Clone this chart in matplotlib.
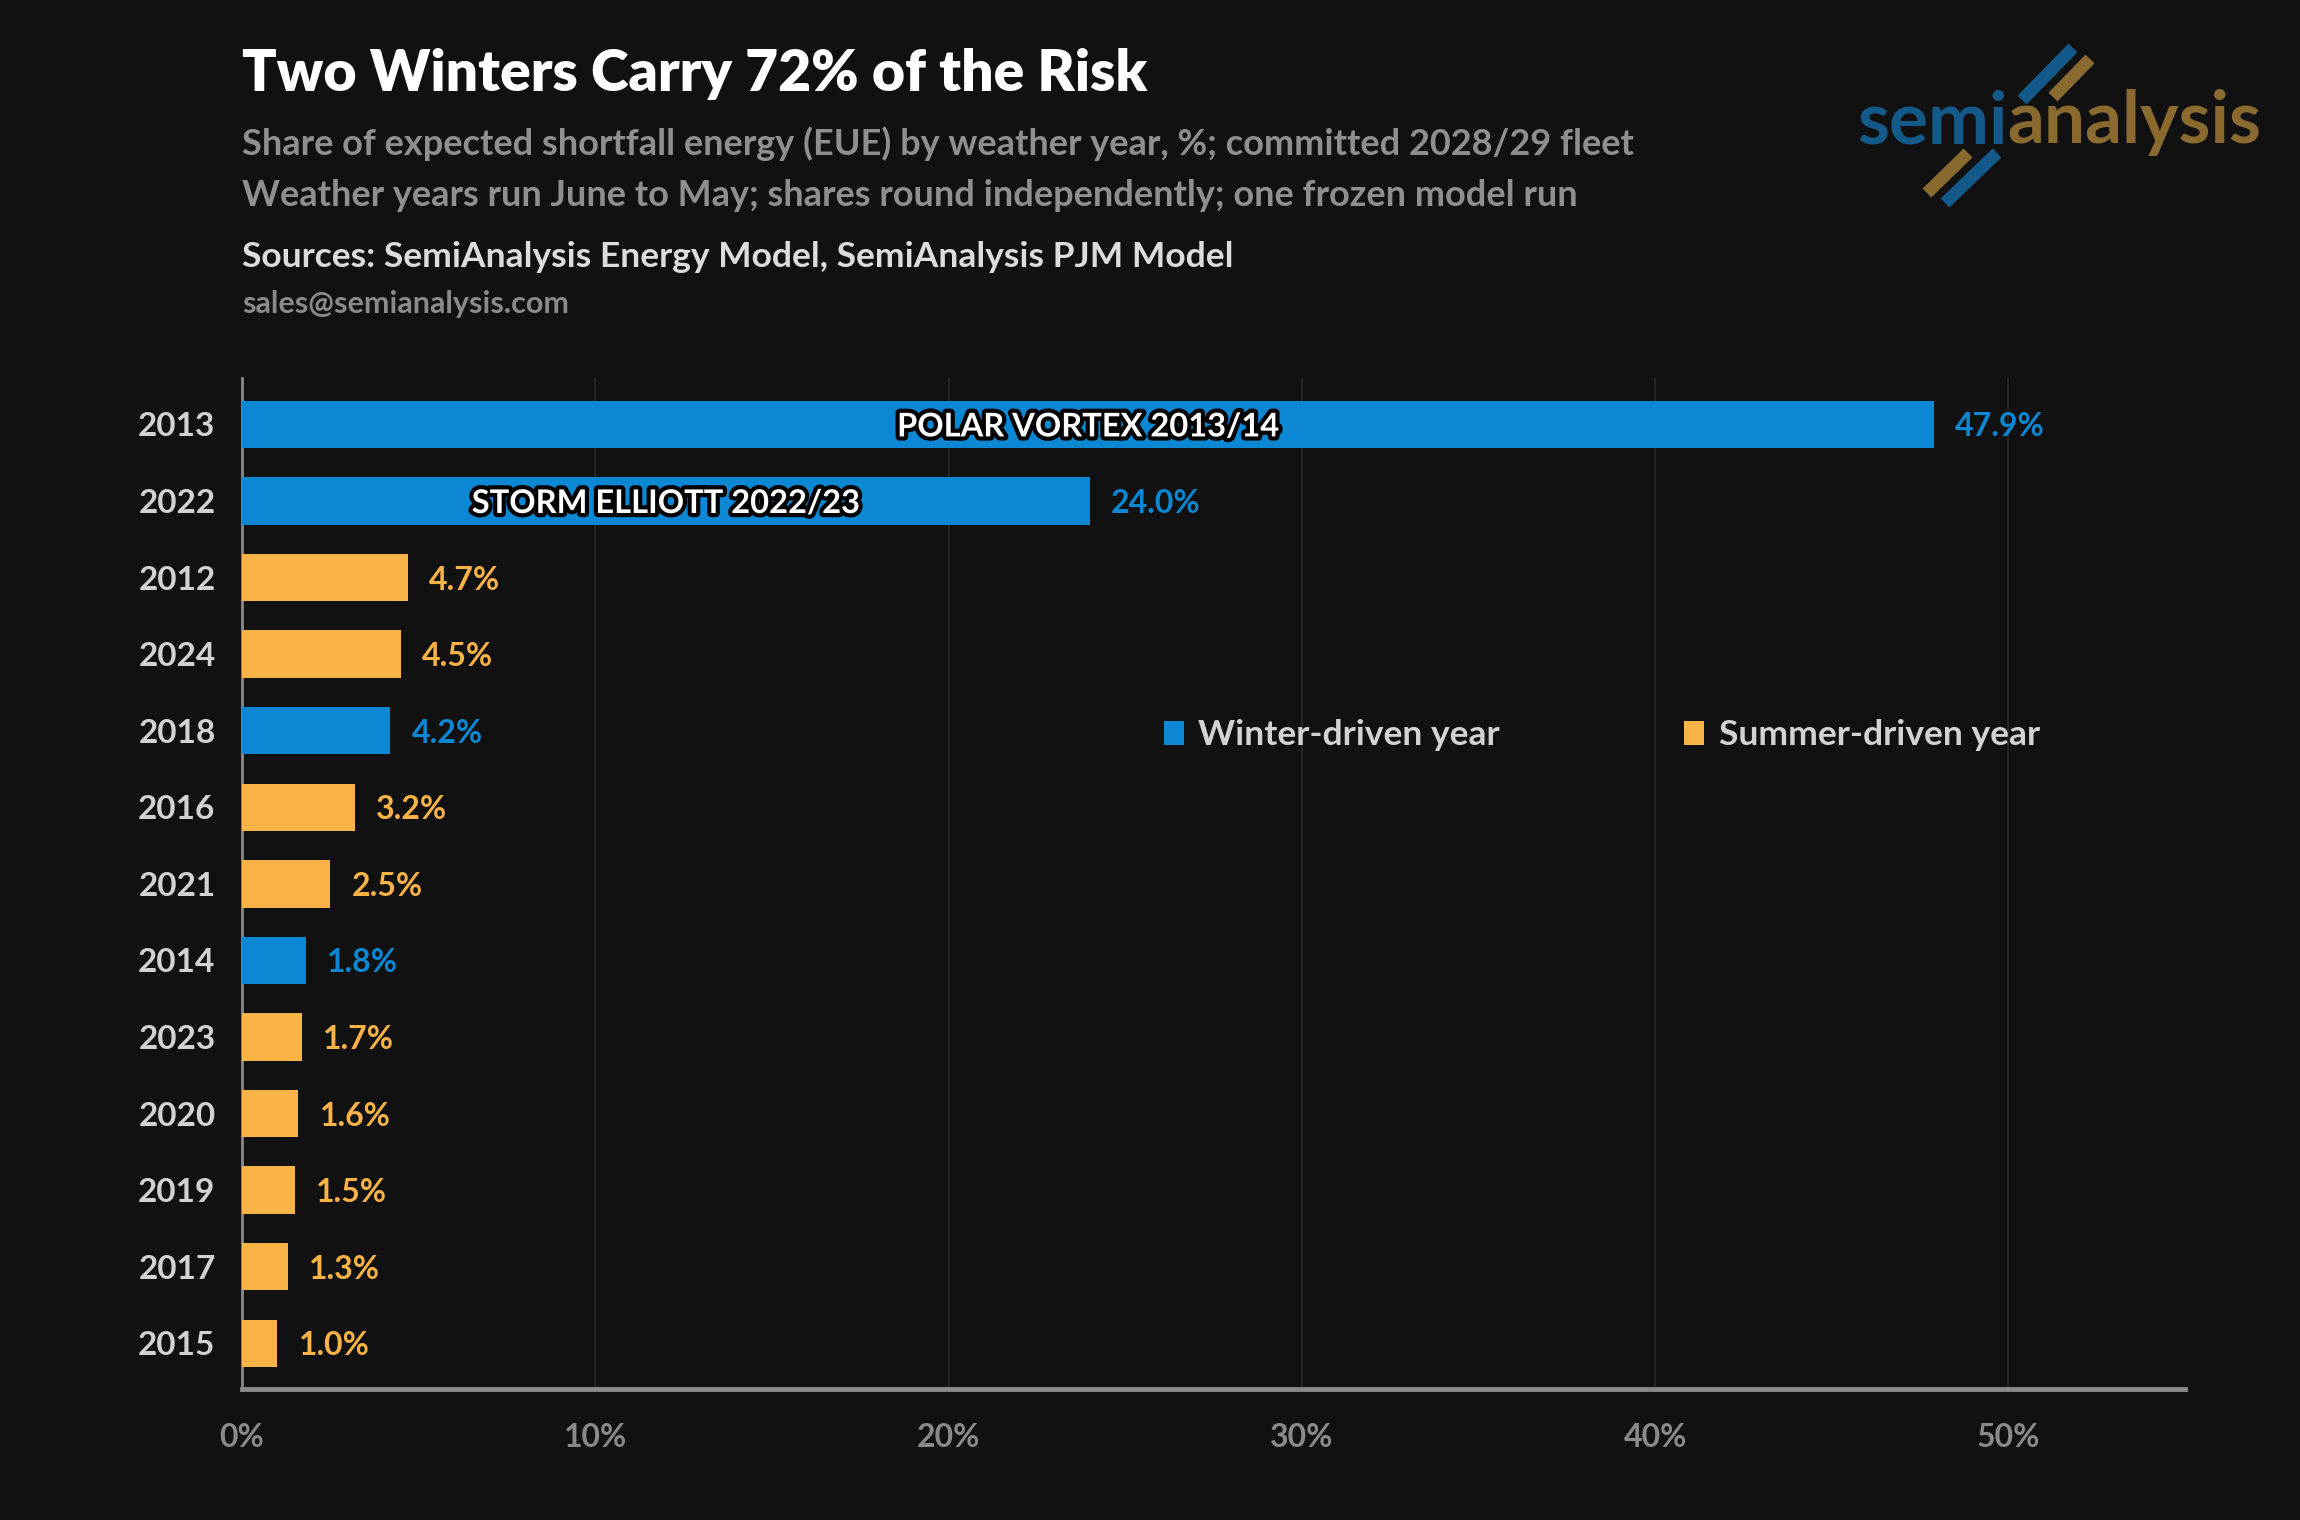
import matplotlib
matplotlib.use("Agg")
import matplotlib.pyplot as plt
import matplotlib.patheffects as pe
from matplotlib.lines import Line2D
from matplotlib.patches import Patch

years = ["2013", "2022", "2012", "2024", "2018", "2016", "2021", "2014", "2023", "2020", "2019", "2017", "2015"]
shares = [47.9, 24.0, 4.7, 4.5, 4.2, 3.2, 2.5, 1.8, 1.7, 1.6, 1.5, 1.3, 1.0]
season = ["winter", "winter", "summer", "summer", "winter", "summer", "summer", "winter", "summer", "summer", "summer", "summer", "summer"]
event_labels = {"2013": "POLAR VORTEX 2013/14", "2022": "STORM ELLIOTT 2022/23"}
xticks = [0, 10, 20, 30, 40, 50]
xtick_labels = ["0%", "10%", "20%", "30%", "40%", "50%"]

BG = "#111111"
BLUE = "#0b87d3"
ORANGE = "#f9b347"
colors = {"winter": BLUE, "summer": ORANGE}
FONT = "Lato"

plt.rcParams['font.family'] = [FONT, 'DejaVu Sans']

W, H = 2300, 1520
fig = plt.figure(figsize=(W / 100, H / 100), dpi=100, facecolor=BG)
ax = fig.add_axes([0.1052, 0.086, 0.950 - 0.1052, 0.751 - 0.086])
ax.set_facecolor(BG)

ypos = list(range(len(years)))
bar_colors = [colors[s] for s in season]
ax.barh(ypos, shares, height=0.62, color=bar_colors, zorder=3)
ax.set_ylim(len(years) - 0.4, -0.6)
ax.set_xlim(0, 55)

ax.set_yticks(ypos)
ax.set_yticklabels(years, fontsize=24, fontweight="bold", color="#d2d2d2",
                   va="center_baseline")
ax.set_xticks(xticks)
ax.set_xticklabels(xtick_labels, fontsize=23, fontweight="bold", color="#8a8a8a")
ax.tick_params(axis="y", length=0, pad=19)
ax.tick_params(axis="x", length=0, pad=24)

ax.grid(axis="x", color="#2a2a2a", linewidth=1.2, zorder=0)
ax.grid(axis="y", visible=False)
for s in ["top", "right"]:
    ax.spines[s].set_visible(False)
ax.spines["left"].set_color("#8a8a8a")
ax.spines["left"].set_linewidth(2)
ax.spines["bottom"].set_color("#8a8a8a")
ax.spines["bottom"].set_linewidth(3.5)

for y, v, s, yr in zip(ypos, shares, season, years):
    ax.text(v + 0.6, y, f"{v:.1f}%", va="center_baseline", ha="left", fontsize=23,
            fontweight="bold", color=colors[s], zorder=4)
    if yr in event_labels:
        ax.text(v / 2, y, event_labels[yr], va="center_baseline", ha="center", fontsize=23.5,
                fontweight="bold", color="white", zorder=5,
                path_effects=[pe.withStroke(linewidth=6, foreground="black")])

handles = [Patch(facecolor=BLUE, edgecolor="none"), Patch(facecolor=ORANGE, edgecolor="none")]
leg = ax.legend(handles, ["Winter-driven year", "Summer-driven year"], ncol=2,
                loc="center left", bbox_to_anchor=(0.458, 0.647), frameon=False,
                fontsize=25.5, handlelength=0.56, handleheight=0.7, handletextpad=0.42,
                columnspacing=5.2)
for t in leg.get_texts():
    t.set_color("#d2d2d2")
    t.set_fontweight("bold")

x0 = 0.1052
fig.text(x0, 1 - 91 / H, "Two Winters Carry 72% of the Risk", fontsize=41, fontweight="heavy",
         color="white", va="baseline", ha="left")
fig.text(x0, 1 - 155 / H, "Share of expected shortfall energy (EUE) by weather year, %; committed 2028/29 fleet",
         fontsize=26, fontweight="bold", color="#8f8f8f", va="baseline", ha="left")
fig.text(x0, 1 - 206 / H, "Weather years run June to May; shares round independently; one frozen model run",
         fontsize=26, fontweight="bold", color="#8f8f8f", va="baseline", ha="left")
fig.text(x0, 1 - 267 / H, "Sources: SemiAnalysis Energy Model, SemiAnalysis PJM Model",
         fontsize=25.5, fontweight="bold", color="#dcdcdc", va="baseline", ha="left")
fig.text(x0, 1 - 313 / H, "sales@semianalysis.com",
         fontsize=22, fontweight="bold", color="#8a8a8a", va="baseline", ha="left")

# logo
LB = "#13598a"
LG = "#8b6a2f"
t1 = fig.text(1857 / W, 1 - 143 / H, "semi", fontsize=52.5, fontweight="bold", color=LB,
              va="baseline", ha="left")
fig.canvas.draw()
bb = t1.get_window_extent()
fig.text(bb.x1 / W, 1 - 143 / H, "analysis", fontsize=52.5, fontweight="bold", color=LG,
         va="baseline", ha="left")
stripes = [((2022, 100), (2073, 48), LB), ((2053, 97), (2090, 59), LG),
           ((1927, 193), (1968, 153), LG), ((1945, 203), (1997, 153), LB)]
for (xa, ya), (xb, yb), c in stripes:
    fig.add_artist(Line2D([xa / W, xb / W], [1 - ya / H, 1 - yb / H], color=c, linewidth=9,
                          solid_capstyle="butt", transform=fig.transFigure))

fig.savefig("out.png", dpi=100, facecolor=BG)
